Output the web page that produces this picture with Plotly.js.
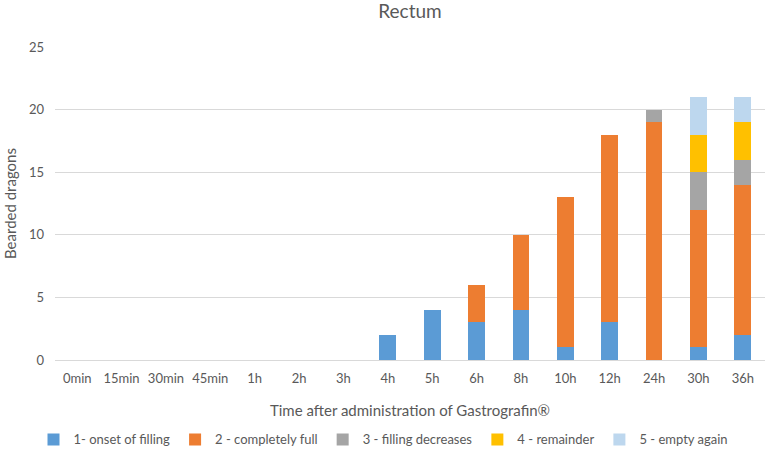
<!DOCTYPE html>
<html>
<head>
<meta charset="utf-8">
<script src="https://cdn.plot.ly/plotly-3.0.1.min.js"></script>
<style>html,body{margin:0;padding:0;background:#fff;}#chart{width:767px;height:465px;}</style>
</head>
<body>
<div id="chart"></div>
<script>
const categories = ["0min","15min","30min","45min","1h","2h","3h","4h","5h","6h","8h","10h","12h","24h","30h","36h"];
const onsetOfFilling    = [0,0,0,0,0,0,0,2,4,3,4,1,3,0,1,2];
const completelyFull    = [0,0,0,0,0,0,0,0,0,3,6,12,15,19,11,12];
const fillingDecreases  = [0,0,0,0,0,0,0,0,0,0,0,0,0,1,3,2];
const remainder         = [0,0,0,0,0,0,0,0,0,0,0,0,0,0,3,3];
const emptyAgain        = [0,0,0,0,0,0,0,0,0,0,0,0,0,0,3,2];
const seriesNames = ["1- onset of filling","2 - completely full","3 - filling decreases","4 - remainder","5 - empty again"];
const seriesColors = ["#5B9BD5","#ED7D31","#A5A5A5","#FFC000","#BDD7EE"];
const seriesValues = [onsetOfFilling, completelyFull, fillingDecreases, remainder, emptyAgain];

const traces = seriesValues.map((v,i)=>({
  type:"bar", x:categories, y:v, name:seriesNames[i],
  marker:{color:seriesColors[i]}, hoverinfo:"x+y+name"
}));

const font = {family:"Lato, 'Open Sans', sans-serif", color:"#595959", size:13};
const layout = {
  width:767, height:465,
  margin:{l:55,r:2,t:47,b:105},
  barmode:"stack", bargap:0.62,
  paper_bgcolor:"#fff", plot_bgcolor:"#fff",
  font:font,
  showlegend:true,
  title:{text:"Rectum", font:{family:font.family,size:19,color:"#595959"}, x:0.5, xanchor:"center", y:0.975, yanchor:"middle", xref:"paper"},
  xaxis:{
    type:"category", tickfont:{size:13,color:"#595959"},
    showgrid:false, showline:true, linecolor:"#D9D9D9", ticks:"", ticklabelstandoff:6,
    title:{text:"Time after administration of Gastrografin®", font:{size:15,color:"#595959"}, standoff:20},
    fixedrange:true
  },
  yaxis:{
    range:[0,25], dtick:5, tickfont:{size:13,color:"#595959"},
    gridcolor:"#D9D9D9", zeroline:false, showline:false, ticks:"", ticklen:0, ticklabelstandoff:10,
    title:{text:"Bearded dragons", font:{size:15,color:"#595959"}, standoff:8},
    fixedrange:true
  },
  legend:{orientation:"h", xref:"container", yref:"container", x:0.5, xanchor:"center", y:0.055, yanchor:"middle",
    font:{size:13,color:"#595959"}, traceorder:"normal", itemwidth:30},
};
Plotly.newPlot("chart", traces, layout, {displayModeBar:false, staticPlot:true});
</script>
</body>
</html>
